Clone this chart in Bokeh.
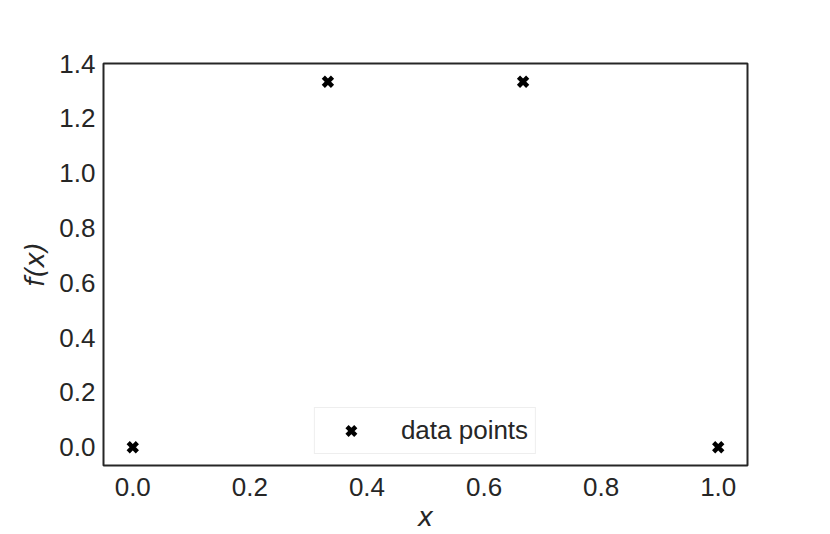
from bokeh.plotting import figure
from bokeh.models import Range1d, FixedTicker, Legend, LegendItem, ColumnDataSource
from bokeh.embed import file_html
from bokeh.resources import INLINE

x_vals = [0.0, 1/3, 2/3, 1.0]
y_vals = [0.0, 4/3, 4/3, 0.0]
x_ticks = [0.0, 0.2, 0.4, 0.6, 0.8, 1.0]
y_ticks = [0.0, 0.2, 0.4, 0.6, 0.8, 1.0, 1.2, 1.4]
series_label = "data points"

TXT = "#262626"

p = figure(width=830, height=534, output_backend="svg", toolbar_location=None,
           x_range=Range1d(-0.05, 1.05), y_range=Range1d(-0.0667, 1.4),
           min_border_left=103, min_border_right=83, min_border_top=63, min_border_bottom=68)

src = ColumnDataSource(dict(x=x_vals, y=y_vals))
r = p.scatter("x", "y", source=src, marker="x", size=13, line_width=4.5, color="black")

p.xgrid.visible = False
p.ygrid.visible = False
p.outline_line_color = TXT
p.outline_line_width = 2
p.background_fill_color = "white"
p.border_fill_color = "white"

for ax in (p.xaxis[0], p.yaxis[0]):
    ax.major_tick_in = 0
    ax.major_tick_out = 0
    ax.minor_tick_in = 0
    ax.minor_tick_out = 0
    ax.axis_line_color = None
    ax.major_label_text_font = "Liberation Sans"
    ax.major_label_text_font_size = "26px"
    ax.major_label_text_color = TXT
    ax.axis_label_text_font = "DejaVu Sans"
    ax.axis_label_text_font_style = "italic"
    ax.axis_label_text_font_size = "26px"
    ax.axis_label_text_color = TXT

p.xaxis.ticker = FixedTicker(ticks=x_ticks)
p.yaxis.ticker = FixedTicker(ticks=y_ticks)
p.xaxis.major_label_overrides = {t: f"{t:.1f}" for t in x_ticks}
p.yaxis.major_label_overrides = {t: f"{t:.1f}" for t in y_ticks}
p.xaxis.axis_label = "x"
p.yaxis.axis_label = "f(x)"
p.xaxis.major_label_standoff = 12
p.xaxis.axis_label_standoff = 3
p.yaxis.major_label_standoff = 8
p.yaxis.axis_label_standoff = 6

legend = Legend(items=[LegendItem(label=series_label, renderers=[r])],
                location="bottom_center", margin=11, padding=7,
                glyph_width=58, glyph_height=31, label_standoff=21,
                label_text_font="Liberation Sans", label_text_font_size="26px",
                label_text_color=TXT, border_line_color="#dddddd",
                border_line_width=1, background_fill_color="white",
                background_fill_alpha=1)
p.add_layout(legend)

open("out.html", "w").write(file_html(p, INLINE))
